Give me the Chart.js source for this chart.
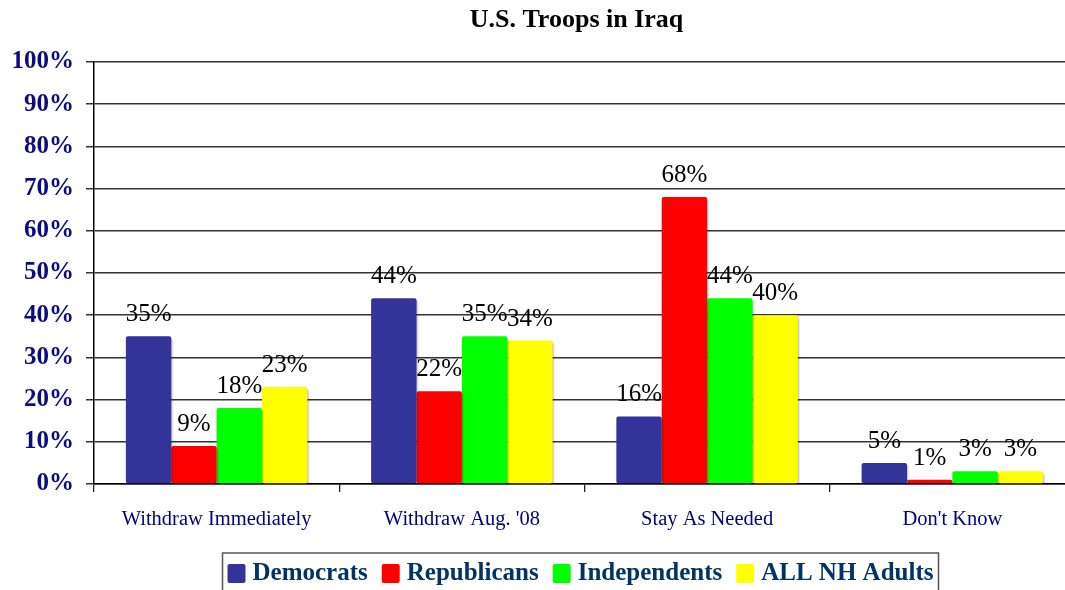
<!DOCTYPE html>
<html><head><meta charset="utf-8">
<script src="https://cdn.jsdelivr.net/npm/chart.js@4/dist/chart.umd.min.js"></script>
<style>
html,body{margin:0;padding:0;overflow:hidden;background:#fff}
#wrap{width:1075px;height:590px;position:relative}
</style>
</head><body>
<div id="wrap"><canvas id="c"></canvas></div>
<script>
const categories=['Withdraw Immediately',"Withdraw Aug. '08",'Stay As Needed',"Don't Know"];
const seriesNames=['Democrats','Republicans','Independents','ALL NH Adults'];
const democrats=[35,44,16,5];
const republicans=[9,22,68,1];
const independents=[18,35,44,3];
const allAdults=[23,34,40,3];
const yTicks=[0,10,20,30,40,50,60,70,80,90,100];
const chartTitle='U.S. Troops in Iraq';

const SERIF="'Liberation Serif','Times New Roman',serif";
const colors=['#333399','#ff0000','#00ff00','#ffff00'];

// bar shadow + value labels + title + boxed legend
const decor={
  id:'decor',
  beforeDatasetsDraw(chart){
    const ctx=chart.ctx; ctx.save();
    ctx.shadowColor='rgba(0,0,0,0.3)'; ctx.shadowBlur=2; ctx.shadowOffsetX=1; ctx.shadowOffsetY=2;
  },
  afterDatasetsDraw(chart){
    const ctx=chart.ctx; ctx.restore();
    ctx.save();
    ctx.font='25px '+SERIF; ctx.fillStyle='#000'; ctx.textAlign='center'; ctx.textBaseline='alphabetic';
    chart.data.datasets.forEach((ds,di)=>{
      chart.getDatasetMeta(di).data.forEach((el,i)=>{
        ctx.fillText(ds.data[i]+'%',el.x,el.y-15);
      });
    });
    ctx.restore();
  },
  afterDraw(chart){
    const ctx=chart.ctx, a=chart.chartArea;
    const cx=(a.left+a.right)/2;
    ctx.save();
    ctx.font='bold 26px '+SERIF; ctx.fillStyle='#000'; ctx.textAlign='center'; ctx.textBaseline='middle';
    ctx.fillText(chartTitle,cx-8,20);
    // legend
    ctx.font='bold 25px '+SERIF; ctx.textAlign='left';
    const sw=18,gap=7,sep=14;
    const items=chart.data.datasets.map(d=>({t:d.label,c:d.backgroundColor,w:ctx.measureText(d.label).width}));
    let total=items.reduce((s,it)=>s+sw+gap+it.w,0)+sep*(items.length-1);
    let x=cx-total/2-4, y=573;
    ctx.strokeStyle='#555'; ctx.lineWidth=1.5;
    ctx.strokeRect(x-5,553,total+10,50);
    items.forEach(it=>{
      ctx.fillStyle=it.c;
      ctx.beginPath(); ctx.roundRect(x,y-9,sw,19,2); ctx.fill();
      x+=sw+gap;
      ctx.fillStyle='#003366';
      ctx.fillText(it.t,x,y+1);
      x+=it.w+sep;
    });
    ctx.restore();
  }
};

const series=[democrats,republicans,independents,allAdults];
new Chart(document.getElementById('c'),{
  type:'bar',
  data:{labels:categories,datasets:series.map((d,i)=>({
    label:seriesNames[i],data:d,backgroundColor:colors[i],borderWidth:0,borderRadius:2,borderSkipped:false
  }))},
  options:{
    responsive:true,maintainAspectRatio:false,animation:false,
    layout:{padding:{top:62,right:0,bottom:0,left:0}},
    categoryPercentage:0.74,barPercentage:1.0,
    plugins:{legend:{display:false},title:{display:false},tooltip:{enabled:false}},
    scales:{
      x:{
        grid:{display:true,drawOnChartArea:false,drawTicks:true,tickLength:8,offset:true,color:'#222',lineWidth:1.3},
        border:{display:true,color:'#000',width:1.5},
        ticks:{color:'#000080',font:{family:SERIF,size:20.5},padding:15},
        afterFit(s){s.height=106;}
      },
      y:{
        min:0,max:100,
        afterBuildTicks(s){s.ticks=yTicks.map(v=>({value:v}));},
        grid:{color:'#333',lineWidth:1.5,tickLength:8},
        border:{display:true,color:'#000',width:1.5},
        ticks:{color:'#0c0c80',font:{family:SERIF,size:25,weight:'bold'},padding:12,callback:v=>v+'%'},
        afterFit(s){s.width=94;}
      }
    }
  },
  plugins:[decor]
});
</script>
</body></html>
